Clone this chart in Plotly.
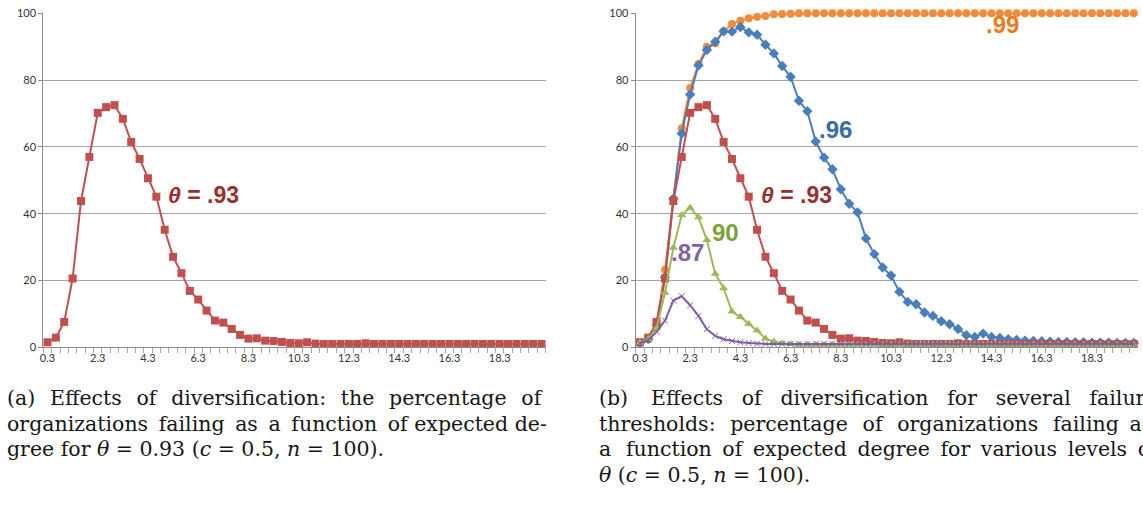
import plotly.graph_objects as go

# ---------------- data ----------------
degree_labels = ["0.3", "0.6", "1.0", "1.3", "1.6", "2.0", "2.3", "2.6", "3.0", "3.3",
                 "3.6", "4.0", "4.3", "4.6", "5.0", "5.3", "5.6", "6.0", "6.3", "6.6",
                 "7.0", "7.3", "7.6", "8.0", "8.3", "8.6", "9.0", "9.3", "9.6", "10.0",
                 "10.3", "10.6", "11.0", "11.3", "11.6", "12.0", "12.3", "12.6", "13.0", "13.3",
                 "13.6", "14.0", "14.3", "14.6", "15.0", "15.3", "15.6", "16.0", "16.3", "16.6",
                 "17.0", "17.3", "17.6", "18.0", "18.3", "18.6", "19.0", "19.3", "19.6", "20.0"]
shown_labels = ["0.3", "2.3", "4.3", "6.3", "8.3", "10.3", "12.3", "14.3", "16.3", "18.3"]

fail_093 = [1.5, 2.9, 7.6, 20.6, 43.8, 57.0, 70.2, 71.9, 72.5, 68.4,
            61.5, 56.4, 50.6, 45.1, 35.2, 27.1, 22.2, 16.9, 14.3, 11.0,
            8.0, 7.4, 5.5, 3.7, 2.6, 2.7, 2.0, 1.9, 1.6, 1.3,
            1.2, 1.5, 1.1, 1.0, 1.0, 1.0, 1.0, 1.0, 1.2, 1.0,
            1.0, 1.0, 1.0, 1.0, 1.0, 1.0, 1.0, 1.0, 1.0, 1.0,
            1.0, 1.0, 1.0, 1.0, 1.0, 1.0, 1.0, 1.0, 1.0, 1.0]
fail_096 = [1.3, 2.5, 6.5, 21.0, 44.5, 64.0, 75.7, 84.4, 89.0, 91.5,
            94.6, 94.5, 95.9, 94.3, 93.6, 90.6, 88.0, 84.2, 81.0, 73.8,
            70.7, 61.6, 56.8, 53.3, 47.3, 43.0, 40.4, 32.6, 27.9, 23.9,
            21.5, 16.6, 13.6, 12.9, 10.4, 9.4, 7.8, 6.9, 5.5, 3.6,
            3.1, 4.1, 3.1, 2.8, 2.4, 2.2, 2.0, 1.9, 1.8, 1.7,
            1.6, 1.6, 1.5, 1.5, 1.4, 1.4, 1.4, 1.3, 1.3, 1.3]
fail_099 = [1.5, 2.8, 7.0, 23.2, 44.5, 65.6, 77.6, 84.8, 90.0, 91.0,
            94.6, 96.8, 97.8, 98.5, 99.0, 99.2, 99.7, 99.8, 99.9, 100.0,
            100.0, 100.0, 100.0, 100.0, 100.0, 100.0, 100.0, 100.0, 100.0, 100.0,
            100.0, 100.0, 100.0, 100.0, 100.0, 100.0, 100.0, 100.0, 100.0, 100.0,
            100.0, 100.0, 100.0, 100.0, 100.0, 100.0, 100.0, 100.0, 100.0, 100.0,
            100.0, 100.0, 100.0, 100.0, 100.0, 100.0, 100.0, 100.0, 100.0, 100.0]
fail_090 = [1.4, 2.5, 5.8, 16.3, 29.8, 39.6, 41.8, 38.9, 32.1, 22.0,
            17.7, 10.7, 9.1, 7.0, 5.0, 2.6, 1.7, 1.2, 1.0, 0.8,
            0.8, 0.8, 0.8, 0.8, 0.8, 0.8, 0.8, 0.8, 0.8, 0.8,
            0.8, 0.8, 0.8, 0.8, 0.8, 0.8, 0.8, 0.8, 0.8, 0.8,
            0.8, 0.8, 0.8, 0.8, 0.8, 0.8, 0.8, 0.8, 0.8, 0.8,
            0.8, 0.8, 0.8, 0.8, 0.8, 0.8, 0.8, 0.8, 0.8, 0.8]
fail_087 = [1.2, 2.2, 4.6, 8.0, 14.0, 15.3, 12.6, 9.4, 5.4, 3.4,
            2.4, 1.9, 1.5, 1.3, 1.1, 1.0, 1.0, 1.0, 1.0, 1.0,
            1.0, 1.0, 1.0, 1.0, 1.0, 1.0, 1.0, 1.0, 1.0, 1.0,
            1.0, 1.0, 1.0, 1.0, 1.0, 1.0, 1.0, 1.0, 1.0, 1.0,
            1.0, 1.0, 1.0, 1.0, 1.0, 1.0, 1.0, 1.0, 1.0, 1.0,
            1.0, 1.0, 1.0, 1.0, 1.0, 1.0, 1.0, 1.0, 1.0, 1.0]

y_ticks = [0, 20, 40, 60, 80, 100]

# caption lines: (words, total extra thin spaces spread over the gaps -> imitates justification)
caption_a = [(["(a)", "Effects", "of", "diversification:", "the", "percentage", "of"], 12),
             (["organizations", "failing", "as", "a", "function", "of", "expected", "de-"], 5),
             (["gree", "for", "<i>θ</i>", "=", "0.93", "(<i>c</i>", "=", "0.5,", "<i>n</i>", "=", "100)."], 0)]
caption_b = [(["(b)", "Effects", "of", "diversification", "for", "several", "failure"], 19),
             (["thresholds:", "percentage", "of", "organizations", "failing", "as"], 9),
             (["a", "function", "of", "expected", "degree", "for", "various", "levels", "of"], 9),
             (["<i>θ</i>", "(<i>c</i>", "=", "0.5,", "<i>n</i>", "=", "100)."], 0)]

# ---------------- styles ----------------
RED, BLUE, ORANGE, GREEN, PURPLE = "#C0504D", "#4A7EBB", "#F08C3C", "#9BBB59", "#7D5FA0"
W, H = 1143, 515

def px_x(p):                 # page pixel -> paper x
    return p / W

def px_y(p):                 # page pixel -> paper y
    return (H - p) / H

fig = go.Figure()

def add_series(y, color, symbol, xa, ya, size=7, lw=2, name=""):
    fig.add_trace(go.Scatter(
        x=degree_labels, y=y, mode="lines+markers", name=name,
        line=dict(color=color, width=lw),
        marker=dict(symbol=symbol, size=size, color=color,
                    line=dict(width=1 if "x" in symbol else 0, color=color)),
        xaxis=xa, yaxis=ya, showlegend=False, cliponaxis=False))

# panel (a)
add_series(fail_093, RED, "square", "x", "y", size=8, name="θ=.93")
# panel (b)
add_series(fail_099, ORANGE, "circle", "x2", "y2", size=8, name=".99")
add_series(fail_096, BLUE, "diamond", "x2", "y2", size=8, name=".96")
add_series(fail_093, RED, "square", "x2", "y2", size=8, name=".93")
add_series(fail_090, GREEN, "triangle-up", "x2", "y2", size=8, name=".90")
add_series(fail_087, PURPLE, "x-thin", "x2", "y2", size=6, name=".87")

ticktext_all = [lab if lab in shown_labels else "" for lab in degree_labels]
TICKFONT = dict(family="Lato, Liberation Sans", size=11, color="#333333")

xcommon = dict(type="category", categoryorder="array", categoryarray=degree_labels,
               range=[-0.5, len(degree_labels) - 0.5],
               tickmode="array", tickvals=degree_labels, ticktext=ticktext_all,
               tickangle=0, tickson="boundaries", ticks="outside", ticklen=5,
               tickcolor="#A6A6A6", tickwidth=1, showgrid=False,
               showline=True, linecolor="#8C8C8C", linewidth=1,
               tickfont=TICKFONT, zeroline=False, fixedrange=True)
ycommon = dict(range=[0, 100], tickmode="array", tickvals=y_ticks,
               ticks="outside", ticklen=4, tickcolor="#8C8C8C",
               showgrid=True, gridcolor="#A6A6A6", gridwidth=1,
               showline=True, linecolor="#8C8C8C", linewidth=1,
               tickfont=TICKFONT, ticklabeloverflow="allow",
               zeroline=False, fixedrange=True)

fig.update_layout(
    width=W, height=H, margin=dict(l=0, r=0, t=0, b=0, autoexpand=False),
    paper_bgcolor="white", plot_bgcolor="white", hovermode=False,
    xaxis=dict(xcommon, domain=[px_x(43.3), px_x(545.7)], anchor="y"),
    yaxis=dict(ycommon, domain=[px_y(347.3), px_y(13.3)], anchor="x"),
    xaxis2=dict(xcommon, domain=[px_x(635.7), px_x(1138.0)], anchor="y2"),
    yaxis2=dict(ycommon, domain=[px_y(347.3), px_y(13.3)], anchor="x2"),
)

def label(text, x, y, color, xref, yref, size=24):
    fig.add_annotation(text=text, x=x, y=y, xref=xref, yref=yref, showarrow=False,
                       xanchor="left", yanchor="middle",
                       font=dict(family="Liberation Sans, Arial", size=size, color=color))

# series labels (positioned in axis units: category index, percent)
label("<b><i>θ</i> = .93</b>", 14.2, 45.6, "#9A2F2F", "x", "y", size=23)
label("<b><i>θ</i> = .93</b>", 14.2, 45.6, "#9A2F2F", "x2", "y2", size=23)
label("<b>.96</b>", 21.2, 65.3, "#3B6BA5", "x2", "y2")
label("<b>.99</b>", 41.1, 96.7, "#EE7A1C", "x2", "y2")
label("<b>90</b>", 8.4, 34.5, "#78A33A", "x2", "y2")
label("<b>.87</b>", 3.5, 28.5, "#8064A2", "x2", "y2")

THIN = "\u2009"

def justify(words, extra):
    gaps = len(words) - 1
    out = words[0]
    for g in range(gaps):
        k = extra // gaps + (1 if g < extra % gaps else 0)
        out += " " + THIN * k + words[g + 1]
    return out

def caption(lines, x0, y0, dy=25.5):
    for i, (words, extra) in enumerate(lines):
        fig.add_annotation(text=justify(words, extra), x=px_x(x0), y=px_y(y0 + i * dy),
                           xref="paper", yref="paper", showarrow=False,
                           xanchor="left", yanchor="middle",
                           font=dict(family="DejaVu Serif", size=20.5, color="#161616"))

caption(caption_a, 5, 398)
caption(caption_b, 597, 398)

# remove the page's default body margin so the figure sits at the window's top-left corner
fig.write_html("out.html", config={"displayModeBar": False, "staticPlot": True},
               post_script="document.body.style.margin='0px';document.body.style.overflow='hidden';")
